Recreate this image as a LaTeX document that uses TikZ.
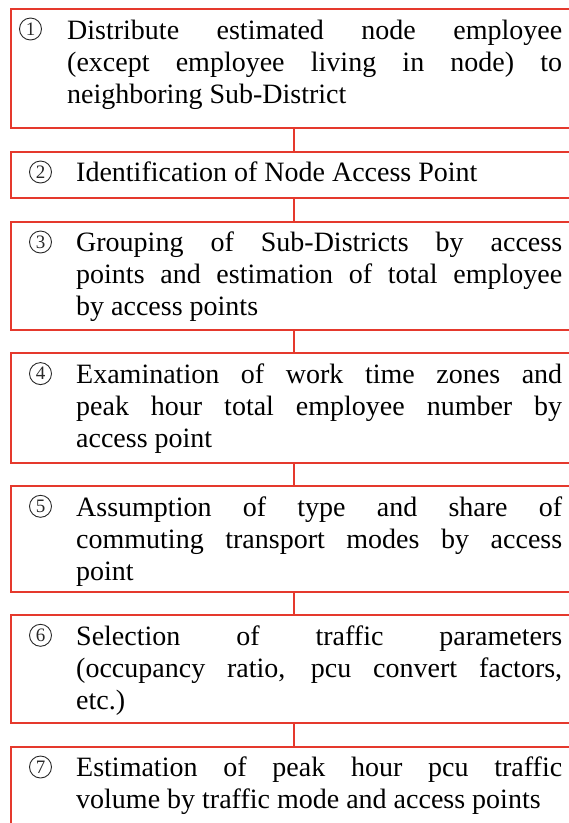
\documentclass[tikz,border=0pt]{standalone}
\usepackage{fontspec}
\setmainfont{Liberation Serif}
\definecolor{boxred}{RGB}{229,57,45}
\definecolor{numgray}{RGB}{40,40,40}
\newcommand{\jline}[1]{\makebox[\linewidth][s]{#1}\\}
\tikzset{
  stepbox/.style={draw=boxred, line width=2pt, rectangle, minimum width=566pt, inner sep=0pt},
  link/.style={draw=boxred, line width=2pt},
  steptext/.style={anchor=base west, inner sep=0pt, font=\fontsize{28}{32}\selectfont, text=black},
  stepnum/.style={circle, draw=numgray, line width=0.9pt, minimum size=22pt, inner sep=0pt,
    text=numgray, font=\fontsize{19}{20}\selectfont}
}
\begin{document}
\begin{tikzpicture}[x=1pt,y=-1pt]
\useasboundingbox (0,0) rectangle (569,823);
\clip (0,0) rectangle (569,823);
% boxes
\node[stepbox, minimum height=118.7pt] (b1) at (294,68.65) {};
\node[stepbox, minimum height=46.6pt] (b2) at (294,175) {};
\node[stepbox, minimum height=108.3pt] (b3) at (294,275.85) {};
\node[stepbox, minimum height=109.4pt] (b4) at (294,408) {};
\node[stepbox, minimum height=105.7pt] (b5) at (294,538.85) {};
\node[stepbox, minimum height=108.3pt] (b6) at (294,669.15) {};
\node[stepbox, minimum height=123.3pt] (b7) at (294,808.35) {};
% connectors
\draw[link] (b1.south) -- (b2.north);
\draw[link] (b2.south) -- (b3.north);
\draw[link] (b3.south) -- (b4.north);
\draw[link] (b4.south) -- (b5.north);
\draw[link] (b5.south) -- (b6.north);
\draw[link] (b6.south) -- (b7.north);
% numbers
\node[stepnum] (n1) at (30.5,29) {1};
\node[stepnum] (n2) at (40.5,172) {2};
\node[stepnum] (n3) at (40.5,242) {3};
\node[stepnum] (n4) at (40.5,373.6) {4};
\node[stepnum] (n5) at (40.5,506.3) {5};
\node[stepnum] (n6) at (40.5,635.3) {6};
\node[stepnum] (n7) at (40.5,767) {7};
% texts
\node[steptext] (t1) at (67,39) {\parbox[t]{495pt}{\fontsize{28}{32}\selectfont
\jline{Distribute estimated node employee}
\jline{(except employee living in node) to}
neighboring Sub-District}};
\node[steptext] (t2) at (76,181.7) {\parbox[t]{486pt}{\fontsize{28}{32}\selectfont
Identification of Node Access Point}};
\node[steptext] (t3) at (76,251.7) {\parbox[t]{486pt}{\fontsize{28}{32}\selectfont
\jline{Grouping of Sub-Districts by access}
\jline{points and estimation of total employee}
by access points}};
\node[steptext] (t4) at (76,383.3) {\parbox[t]{486pt}{\fontsize{28}{32}\selectfont
\jline{Examination of work time zones and}
\jline{peak hour total employee number by}
access point}};
\node[steptext] (t5) at (76,516) {\parbox[t]{486pt}{\fontsize{28}{32}\selectfont
\jline{Assumption of type and share of}
\jline{commuting transport modes by access}
point}};
\node[steptext] (t6) at (76,645) {\parbox[t]{486pt}{\fontsize{28}{32}\selectfont
\jline{Selection of traffic parameters}
\jline{(occupancy ratio, pcu convert factors,}
etc.)}};
\node[steptext] (t7) at (76,776.7) {\parbox[t]{486pt}{\fontsize{28}{32}\selectfont
\jline{Estimation of peak hour pcu traffic}
volume by traffic mode and access points}};
\end{tikzpicture}
\end{document}
